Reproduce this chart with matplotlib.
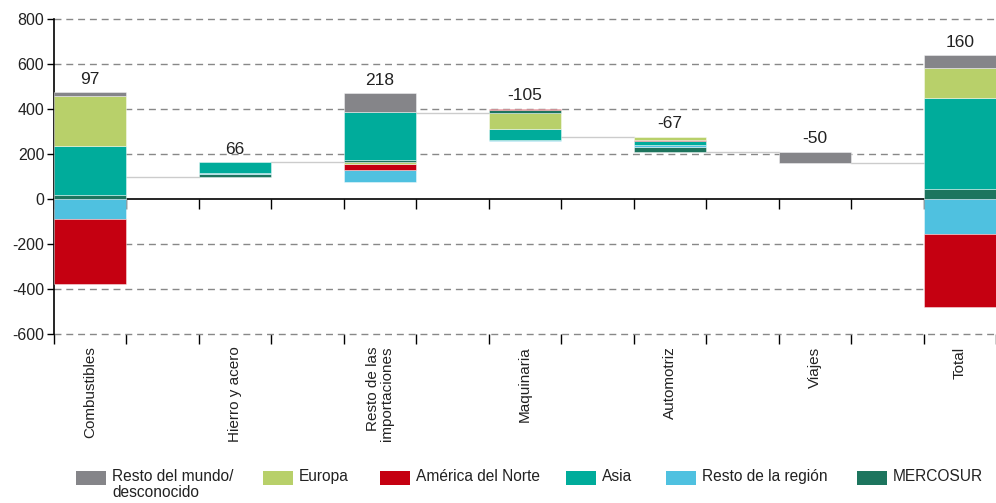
"""Waterfall of trade-balance change by product, stacked by region of origin."""
import matplotlib
matplotlib.use("Agg")
import matplotlib.pyplot as plt
from matplotlib.patches import Rectangle

plt.rcParams['font.family'] = ['Liberation Sans', 'DejaVu Sans']
plt.rcParams['axes.unicode_minus'] = False

categories = ["Combustibles", "Hierro y acero", "Resto de las\nimportaciones",
              "Maquinaria", "Automotriz", "Viajes", "Total"]

# series in stacking order (bottom -> top)
regions = ["MERCOSUR", "Resto de la región", "Asia", "América del Norte",
           "Europa", "Resto del mundo/\ndesconocido"]
mercosur      = [20, 13, 9, 15, -23, 0, 45]
resto_region  = [-90, 4, -55, -6, -10, 0, -155]
asia          = [215, 49, 216, -51, -16, 0, 403]
america_norte = [-287, 0, -27, 5, -5, 0, -323]
europa        = [222, 0, -6, -68, -13, 0, 133]
resto_mundo   = [17, 0, 81, 0, 0, -50, 57]
series = [mercosur, resto_region, asia, america_norte, europa, resto_mundo]

colors = ["#1d755e", "#4fc1e0", "#00ac9b", "#c50011", "#b8d06a", "#858589"]
legend_order = [5, 4, 3, 2, 1, 0]
legend_x = [76, 263, 380, 566, 666, 857]   # pixel x of each legend swatch

W = 0.5
EDGE = (1, 1, 1, .5)
fig = plt.figure(figsize=(9.96, 5.03), dpi=100)
ax = fig.add_axes([54 / 996, 1 - 334 / 503, (996 - 54) / 996, (334 - 19) / 503])

n = len(categories)
totals = [sum(s[i] for s in series) for i in range(n)]
level = 0
for i in range(n):
    vals = [s[i] for s in series]
    if i == 0 or i == n - 1:
        # anchored at zero: positives up, negatives down
        up, down = 0, 0
        for v, c in zip(vals, colors):
            if v > 0:
                ax.bar(i, v, W, bottom=up, color=c, edgecolor=EDGE, lw=.6, zorder=3)
                up += v
            elif v < 0:
                ax.bar(i, v, W, bottom=down, color=c, edgecolor=EDGE, lw=.6, zorder=3)
                down += v
        top = up
    else:
        # floating: start at lowest point, stack |negatives| then positives
        cur = level + sum(v for v in vals if v < 0)
        for v, c in zip(vals, colors):
            if v < 0:
                ax.bar(i, -v, W, bottom=cur, color=c, edgecolor=EDGE, lw=.6, zorder=3)
                cur += -v
        for v, c in zip(vals, colors):
            if v > 0:
                ax.bar(i, v, W, bottom=cur, color=c, edgecolor=EDGE, lw=.6, zorder=3)
                cur += v
        top = cur
    ax.annotate(f"{totals[i]}", (i, top), xytext=(0, 4), textcoords="offset points",
                ha="center", va="bottom", fontsize=12.5, color="#222222")
    if i < n - 1:
        level = level + totals[i]
        ax.plot([i + W / 2, i + 1 - W / 2], [level, level], color="#cccccc", lw=1, zorder=2)

ax.set_ylim(-600, 800)
ax.set_xlim(-0.25, -0.25 + (996 - 54) / 145.7)
ax.set_yticks(range(-600, 801, 200))
for y in range(-600, 801, 200):
    if y != 0:
        ax.axhline(y, color="#888888", lw=1, ls=(0, (5, 3.5)), zorder=1, clip_on=False)

for s in ("top", "right"):
    ax.spines[s].set_visible(False)
ax.spines["bottom"].set_position(("data", 0))
ax.spines["bottom"].set_linewidth(1.2)
ax.spines["left"].set_linewidth(1.2)
ax.tick_params(axis="y", direction="out", length=5, width=1, labelsize=11.5, pad=2,
               labelcolor="#222222")

edges = [k + d for k in range(n) for d in (-W / 2, W / 2)]
ax.set_xticks(edges)
ax.set_xticklabels([])
ax.tick_params(axis="x", direction="out", length=7, width=1)

sec = ax.secondary_xaxis("bottom")
sec.spines["bottom"].set_visible(False)
sec.set_xticks(range(n))
sec.set_xticklabels(categories, rotation=90, va="top", ha="center",
                    multialignment="right", fontsize=11, color="#222222",
                    linespacing=0.95)
sec.set_xticks(edges, minor=True)
sec.tick_params(axis="x", which="major", length=0, pad=9)
sec.tick_params(axis="x", which="minor", length=7, width=1, direction="out")

# legend along the bottom
for k, px in zip(legend_order, legend_x):
    fig.patches.append(Rectangle((px / 996, 1 - 485 / 503), 30 / 996, 14 / 503,
                                 transform=fig.transFigure, facecolor=colors[k]))
    fig.text((px + 36) / 996, 1 - 469 / 503, regions[k], ha="left", va="top",
             fontsize=11.2, color="#222222", linespacing=1.1)

fig.savefig("out.png", dpi=100)
